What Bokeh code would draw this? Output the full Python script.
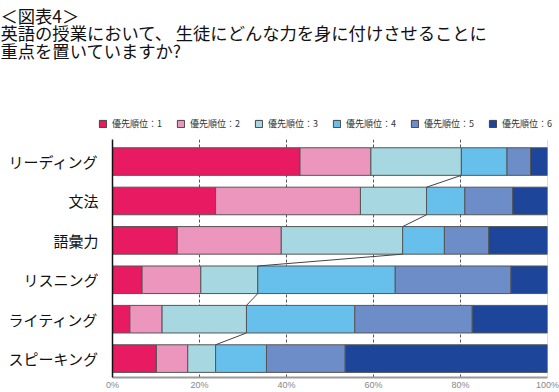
from bokeh.plotting import figure
from bokeh.layouts import column
from bokeh.models import (Range1d, FixedTicker, Legend, LegendItem, Label, Span,
                          ColumnDataSource)
from bokeh.embed import file_html
from bokeh.resources import INLINE

categories = ["リーディング", "文法", "語彙力", "リスニング", "ライティング", "スピーキング"]
rank_labels = ["優先順位：1", "優先順位：2", "優先順位：3", "優先順位：4", "優先順位：5", "優先順位：6"]
rank1 = [43.1, 23.7, 14.9, 6.8, 4.0, 10.1]
rank2 = [16.3, 33.3, 23.9, 13.5, 7.4, 7.2]
rank3 = [20.8, 15.2, 27.9, 13.1, 19.4, 6.4]
rank4 = [10.5, 8.8, 9.6, 31.6, 24.9, 11.7]
rank5 = [5.4, 11.0, 10.2, 26.6, 27.0, 18.1]
rank6 = [3.9, 8.0, 13.5, 8.4, 17.3, 46.5]
x_ticks = [0, 20, 40, 60, 80, 100]
title_text = "＜図表4＞\n英語の授業において、 生徒にどんな力を身に付けさせることに\n重点を置いていますか?"

colors = ["#E71A62", "#EC96BD", "#A7D8E2", "#67C0EC", "#6C8DC8", "#1D4599"]
JP = "Noto Sans CJK JP"
BAR_H = 0.7
W = 559
HEAD_H = 132
LEFT, RIGHT = 112, 12
FH = 238

idx = list(range(len(categories)))
keys = ["r1", "r2", "r3", "r4", "r5", "r6"]
series = [rank1, rank2, rank3, rank4, rank5, rank6]
data = {"y": idx, "cat": categories}
for k, s in zip(keys, series):
    data[k] = s
source = ColumnDataSource(data)

# ---------------- header (title + legend) ----------------
head = figure(width=W, height=HEAD_H, output_backend="svg", toolbar_location=None,
              x_range=Range1d(0, 100), y_range=Range1d(1000, 1001),
              x_axis_location=None, y_axis_location=None,
              min_border_left=0, min_border_right=0, min_border_top=0, min_border_bottom=0,
              outline_line_color=None)
head.frame_align = False
head.grid.visible = False

# same stacked series (outside the header's visible range) only to feed the legend
legend_renderers = head.hbar_stack(keys, y="y", height=BAR_H, source=source,
                                   fill_color=colors, line_color="#444444", line_width=1)
legend = Legend(items=[LegendItem(label=l, renderers=[r]) for l, r in zip(rank_labels, legend_renderers)],
                orientation="horizontal", location=(98, 2),
                label_text_font=JP, label_text_font_size="9px", label_text_color="#333333",
                glyph_width=9, glyph_height=9, label_standoff=5, spacing=14,
                padding=1, margin=0, border_line_color=None, background_fill_alpha=0)
head.add_layout(legend, "center")

title = Label(x=0, y=HEAD_H - 2, x_units="screen", y_units="screen", text=title_text,
              anchor="top_left", text_font=JP, text_font_size="17.3px",
              text_color="#111111", text_line_height=0.7)
head.add_layout(title)

# ---------------- main chart ----------------
p = figure(frame_width=W - LEFT - RIGHT, frame_height=FH, output_backend="svg",
           toolbar_location=None,
           x_range=Range1d(0, 100), y_range=Range1d(5.48, -0.56),
           min_border_left=LEFT, min_border_right=RIGHT, min_border_top=7,
           min_border_bottom=14, outline_line_color=None)
p.frame_align = False

p.hbar_stack(keys, y="y", height=BAR_H, source=source,
             fill_color=colors, line_color="#555555", line_width=1)

# connector lines (cumulative of ranks 1-3) between adjacent bars
cum3 = [a + b + c for a, b, c in zip(rank1, rank2, rank3)]
p.segment(x0=cum3[:-1], y0=[i + BAR_H / 2 for i in idx[:-1]],
          x1=cum3[1:], y1=[i - BAR_H / 2 for i in idx[1:]],
          line_color="#444444", line_width=1)

# grid
p.ygrid.visible = False
p.xgrid.ticker = FixedTicker(ticks=[20, 40, 60, 80])
p.xgrid.grid_line_color = "#555555"
p.xgrid.grid_line_dash = "3 2"
p.xgrid.grid_line_width = 1
p.add_layout(Span(location=100, dimension="height", line_color="#BBBBBB",
                  line_width=1, level="underlay"))

# x axis
p.xaxis.ticker = FixedTicker(ticks=x_ticks)
p.xaxis.major_label_overrides = {v: f"{v}%" for v in x_ticks}
p.xaxis.major_tick_in = 0
p.xaxis.major_tick_out = 0
p.xaxis.minor_tick_line_color = None
p.xaxis.axis_line_color = "#999999"
p.xaxis.axis_line_width = 2
p.xaxis.major_label_text_font = "Liberation Sans"
p.xaxis.major_label_text_font_size = "9px"
p.xaxis.major_label_text_color = "#888888"
p.xaxis.major_label_standoff = 2

# y axis
p.yaxis.ticker = FixedTicker(ticks=idx)
p.yaxis.major_label_overrides = {i: c for i, c in zip(idx, categories)}
p.yaxis.major_tick_in = 0
p.yaxis.major_tick_out = 0
p.yaxis.minor_tick_line_color = None
p.yaxis.axis_line_color = "#111111"
p.yaxis.axis_line_width = 1.5
p.yaxis.major_label_text_font = JP
p.yaxis.major_label_text_font_size = "15px"
p.yaxis.major_label_text_color = "#111111"
p.yaxis.major_label_standoff = 14

layout = column(head, p, spacing=0)
open("out.html", "w").write(file_html(layout, INLINE))
